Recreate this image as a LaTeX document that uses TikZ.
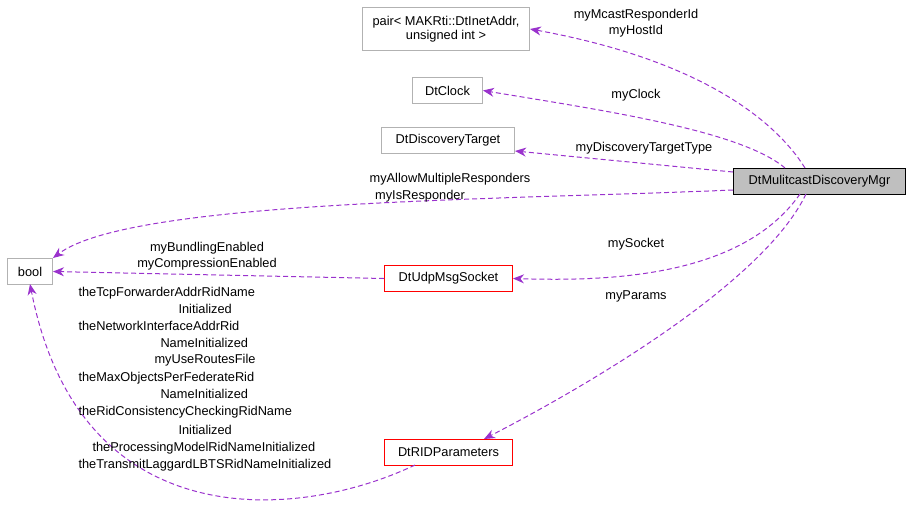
\documentclass[tikz,border=0pt]{standalone}
\usepackage{fontspec}
\setmainfont{Liberation Sans}
\usetikzlibrary{arrows.meta}
\definecolor{edge}{HTML}{9A32CD}
\begin{document}
\begin{tikzpicture}[x=1pt,y=-1pt,font=\fontsize{12.8}{14.5}\selectfont,line width=1pt,
 box/.style={draw=#1,rectangle,inner sep=0pt,anchor=north west,align=center},
 lab/.style={inner sep=0pt,anchor=base},
 labw/.style={inner sep=0pt,anchor=base west},
 dep/.style={draw=edge,dash pattern=on 5pt off 3pt,-{Stealth[length=11pt,width=9pt]}}]
\useasboundingbox (0,0) rectangle (909,520);
\node[box=gray!60,minimum width=167pt,minimum height=43pt] (pair) at (362,7) {pair< MAKRti::DtInetAddr,\\unsigned int >};
\node[box=gray!60,minimum width=70pt,minimum height=26pt] (clock) at (412,77) {DtClock};
\node[box=gray!60,minimum width=133pt,minimum height=26pt] (target) at (381,127) {DtDiscoveryTarget};
\node[box=black,fill=gray!50,minimum width=172pt,minimum height=26pt] (mgr) at (733,168) {DtMulitcastDiscoveryMgr};
\node[box=gray!60,minimum width=45pt,minimum height=26pt] (bool) at (7,258) {bool};
\node[box=red,minimum width=128pt,minimum height=26pt] (sock) at (384,265) {DtUdpMsgSocket};
\node[box=red,minimum width=128pt,minimum height=26pt] (rid) at (384,439) {DtRIDParameters};
\coordinate (m1) at (805,168);
\coordinate (m2) at (785,168);
\coordinate (m5) at (800,194);
\coordinate (m6) at (806,194);
\coordinate (b3) at (30,284);
\coordinate (r3) at (415,465);
\draw[dep] (m1) .. controls (775,120) and (700,60) .. (pair.east);
\draw[dep] (m2) .. controls (740,130) and (600,110) .. (clock.east);
\draw[dep] (mgr.west |- 0,172) -- (target.east |- 0,151);
\draw[dep] (mgr.west |- 0,190) .. controls (500,200) and (130,200) .. (bool.north east);
\draw[dep] (m5) .. controls (740,280) and (600,281) .. (sock.east);
\draw[dep] (m6) .. controls (760,290) and (560,400) .. (rid.north east -| 484,0);
\draw[dep] (sock.west) -- (bool.east);
\draw[dep] (r3) .. controls (300,520) and (80,540) .. (b3);
\node[lab] at (636,18) {myMcastResponderId};
\node[lab] at (636,34) {myHostId};
\node[lab] at (636,98) {myClock};
\node[lab] at (644,151) {myDiscoveryTargetType};
\node[lab] at (450,182) {myAllowMultipleResponders};
\node[lab] at (420,199) {myIsResponder};
\node[lab] at (207,251) {myBundlingEnabled};
\node[lab] at (207,267) {myCompressionEnabled};
\node[lab] at (636,247) {mySocket};
\node[lab] at (636,299) {myParams};
\node[labw] at (78,296) {theTcpForwarderAddrRidName};
\node[labw] at (178,313) {Initialized};
\node[labw] at (78,330) {theNetworkInterfaceAddrRid};
\node[labw] at (160,347) {NameInitialized};
\node[labw] at (154,363) {myUseRoutesFile};
\node[labw] at (78,381) {theMaxObjectsPerFederateRid};
\node[labw] at (160,398) {NameInitialized};
\node[labw] at (78,415) {theRidConsistencyCheckingRidName};
\node[labw] at (178,434) {Initialized};
\node[labw] at (92,451) {theProcessingModelRidNameInitialized};
\node[labw] at (78,468) {theTransmitLaggardLBTSRidNameInitialized};
\end{tikzpicture}
\end{document}
